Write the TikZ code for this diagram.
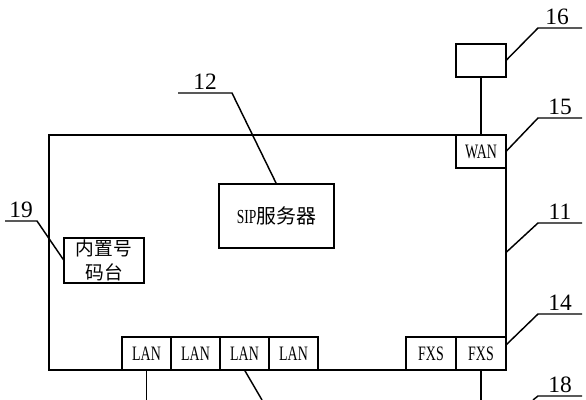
\documentclass[tikz,border=0pt]{standalone}
\usepackage{fontspec}
\setmainfont{Liberation Serif}
\newfontfamily\cjk{Noto Sans CJK SC}
\newfontfamily\narrowserif[FakeStretch=0.68]{Liberation Serif}
\usetikzlibrary{positioning,calc}
\newlength\pxu
\setlength\pxu{0.03cm}
\tikzset{
    % Lines
    line style/.style={line width=1.25pt,black},
    leader/.style={line style,line join=miter},
    %
    % Boxes
    unit box/.style={draw,line style,inner sep=0pt,outer sep=0pt},
    port box/.style={unit box,minimum width=49\pxu,minimum height=33\pxu,font=\narrowserif\fontsize{17.5}{17.5}\selectfont},
    %
    % Reference numerals
    ref label/.style={font=\fontsize{20}{20}\selectfont,inner sep=2pt,anchor=south}
}

\begin{document}
\begin{tikzpicture}[x=\pxu,y=-\pxu]
    \useasboundingbox (0,0) rectangle (586,400);

    % Gateway housing and its units
    \node[unit box,minimum width=457\pxu,minimum height=235\pxu,anchor=north west] (gw) at (49,135) {};
    \node[port box,anchor=north east,minimum width=50\pxu] (wan) at (gw.north east) {WAN};
    \node[unit box,minimum width=50\pxu,minimum height=33\pxu,above=58\pxu of wan] (modem) {};
    \node[unit box,minimum width=115\pxu,minimum height=64\pxu,anchor=north west,font=\fontsize{17}{17}\selectfont] (sip) at (219,184) {{\narrowserif SIP}{\cjk 服务器}};
    \node[unit box,minimum width=80\pxu,minimum height=45\pxu,anchor=north west,align=center,font=\cjk\fontsize{16}{20}\selectfont] (console) at (64,238) {内置号\\码台};

    % LAN ports
    \node[port box,anchor=south west] (lan1) at (122,370) {LAN};
    \foreach \i [count=\j from 2] in {1,2,3}
        \node[port box,right=0pt of lan\i] (lan\j) {LAN};

    % FXS ports
    \node[port box,anchor=south east,minimum width=50\pxu] (fxs2) at (gw.south east) {FXS};
    \node[port box,left=0pt of fxs2,minimum width=50\pxu] (fxs1) {FXS};

    % Cables
    \coordinate (lan1 end) at (lan1.south |- 0,400);
    \coordinate (lan3 end) at (262,400);
    \coordinate (fxs2 end) at (fxs2.south |- 0,400);
    \draw[line style] (modem.south) -- (wan.north);
    \draw[line style] (lan1.south) -- (lan1 end);
    \draw[line style] (lan3.south) -- (lan3 end);
    \draw[line style] (fxs2.south) -- (fxs2 end);

    % Leader lines with reference numerals
    \coordinate (k16) at (538,28);   \coordinate (e16) at (582,28);
    \coordinate (k15) at (538,118);  \coordinate (e15) at (582,118);
    \coordinate (k11) at (538,223);  \coordinate (e11) at (582,223);
    \coordinate (s14) at ($(fxs2.north east)+(0,8)$);
    \coordinate (k14) at (538,314);  \coordinate (e14) at (582,314);
    \coordinate (s18) at (533,400);
    \coordinate (k18) at (538,396);  \coordinate (e18) at (582,396);
    \coordinate (e12) at (178,93);   \coordinate (k12) at (232,93);
    \coordinate (e19) at (5,221);    \coordinate (k19) at (37,221);

    \draw[leader] (e16) -- node[ref label,xshift=-3\pxu] {16} (k16) -- (modem.east);
    \draw[leader] (e15) -- node[ref label] {15} (k15) -- (wan.east);
    \draw[leader] (e11) -- node[ref label] {11} (k11) -- (gw.east);
    \draw[leader] (e14) -- node[ref label] {14} (k14) -- (s14);
    \draw[leader] (e18) -- node[ref label] {18} (k18) -- (s18);
    \draw[leader] (e12) -- node[ref label] {12} (k12) -- (sip.north);
    \draw[leader] (e19) -- node[ref label] {19} (k19) -- (console.west);
\end{tikzpicture}
\end{document}
